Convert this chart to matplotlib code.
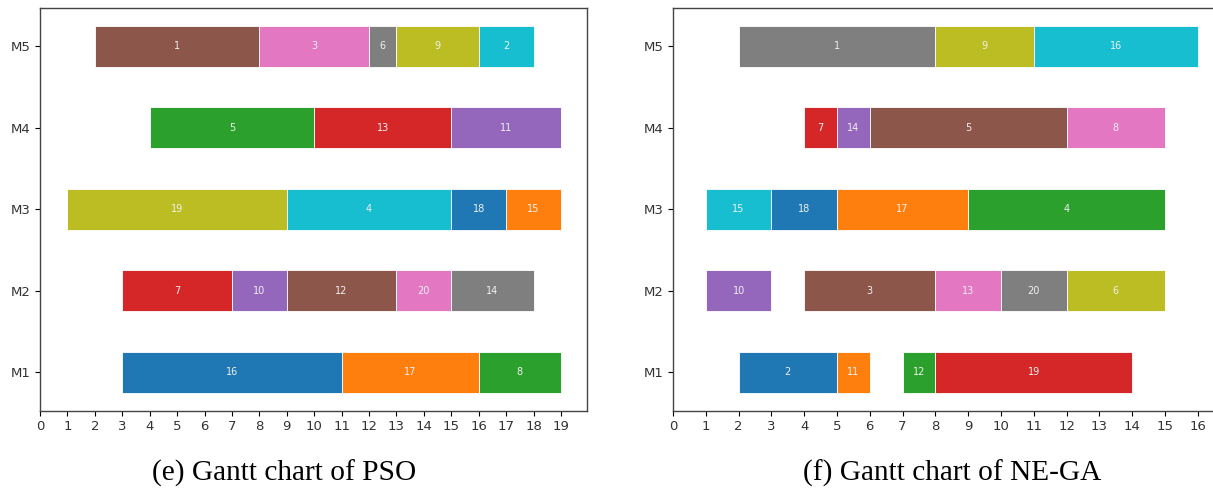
import matplotlib.pyplot as plt

machines = ["M1", "M2", "M3", "M4", "M5"]

# PSO schedule: (machine, job, start, end)
pso_machine = [1, 1, 1, 2, 2, 2, 2, 2, 3, 3, 3, 3, 4, 4, 4, 5, 5, 5, 5, 5]
pso_job = [16, 17, 8, 7, 10, 12, 20, 14, 19, 4, 18, 15, 5, 13, 11, 1, 3, 6, 9, 2]
pso_start = [3, 11, 16, 3, 7, 9, 13, 15, 1, 9, 15, 17, 4, 10, 15, 2, 8, 12, 13, 16]
pso_end = [11, 16, 19, 7, 9, 13, 15, 18, 9, 15, 17, 19, 10, 15, 19, 8, 12, 13, 16, 18]

# NE-GA schedule
ga_machine = [1, 1, 1, 1, 2, 2, 2, 2, 2, 3, 3, 3, 3, 4, 4, 4, 4, 5, 5, 5]
ga_job = [2, 11, 12, 19, 10, 3, 13, 20, 6, 15, 18, 17, 4, 7, 14, 5, 8, 1, 9, 16]
ga_start = [2, 5, 7, 8, 1, 4, 8, 10, 12, 1, 3, 5, 9, 4, 5, 6, 12, 2, 8, 11]
ga_end = [5, 6, 8, 14, 3, 8, 10, 12, 15, 3, 5, 9, 15, 5, 6, 12, 15, 8, 11, 16]

colors = ["#1f77b4", "#ff7f0e", "#2ca02c", "#d62728", "#9467bd",
          "#8c564b", "#e377c2", "#7f7f7f", "#bcbd22", "#17becf"]

W, H = 1213, 492
fig = plt.figure(figsize=(W / 100, H / 100), dpi=100)

def draw(ax, mach, job, start, end, xmax, nt):
    for i, (m, j, s, e) in enumerate(zip(mach, job, start, end)):
        ax.barh(m, e - s, left=s, height=0.5, color=colors[i % 10],
                edgecolor="white", linewidth=0.6)
        ax.text((s + e) / 2, m, str(j), ha="center", va="center",
                color="#f0f0f0", fontsize=7)
    ax.set_yticks(range(1, 6))
    ax.set_yticklabels(machines, fontsize=9.5, color="#333333")
    ax.set_xticks(range(0, nt + 1))
    ax.tick_params(axis="x", labelsize=9.5, labelcolor="#333333")
    ax.set_xlim(0, xmax)
    ax.set_ylim(0.53, 5.47)
    for sp in ax.spines.values():
        sp.set_color("#444444")
        sp.set_linewidth(1.0)

ax1 = fig.add_axes([40 / W, (H - 410.5) / H, 547 / W, 402.5 / H])
draw(ax1, pso_machine, pso_job, pso_start, pso_end, 19.95, 19)

ax2 = fig.add_axes([673 / W, (H - 410.5) / H, 560 / W, 402.5 / H])
draw(ax2, ga_machine, ga_job, ga_start, ga_end, 560 / 32.8, 16)

fig.text(284.5 / W, 1 - 473 / H, "(e) Gantt chart of PSO", ha="center", va="center",
         fontsize=21.2, family="Liberation Serif")
fig.text(952 / W, 1 - 473 / H, "(f) Gantt chart of NE-GA", ha="center", va="center",
         fontsize=21.2, family="Liberation Serif")

fig.savefig("out.png", dpi=100)
